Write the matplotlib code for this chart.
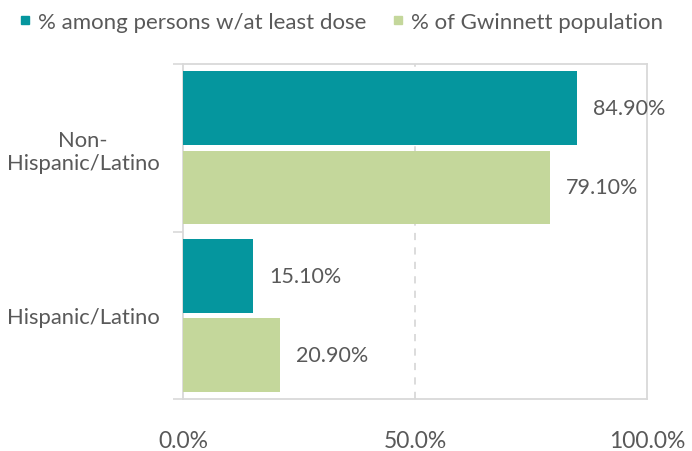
import matplotlib.pyplot as plt
from matplotlib.lines import Line2D
from matplotlib.ticker import FixedLocator

# data
categories = ['Hispanic/Latino', 'Non-\nHispanic/Latino']
among_dosed = [15.1, 84.9]
gwinnett_pop = [20.9, 79.1]
series_names = ['% among persons w/at least dose', '% of Gwinnett population']
xticks = [0, 50, 100]

teal = '#05969e'
green = '#c4d79b'
txt = '#595959'
edge = '#d9d9d9'

plt.rcParams['font.family'] = ['Lato', 'DejaVu Sans']

fig = plt.figure(figsize=(6.92, 4.52), dpi=100)
ax = fig.add_axes([0.2645, 0.115, 0.6705, 0.741])

pos = list(range(len(categories)))
h = 0.44
off = 0.236
ax.barh([p + off for p in pos], among_dosed, height=h, color=teal, zorder=3)
ax.barh([p - off for p in pos], gwinnett_pop, height=h, color=green, zorder=3)

for p, v in zip(pos, among_dosed):
    ax.text(v + 3.4, p + off, f'{v:.2f}%', va='center', ha='left', fontsize=15.5, color=txt)
for p, v in zip(pos, gwinnett_pop):
    ax.text(v + 3.4, p - off, f'{v:.2f}%', va='center', ha='left', fontsize=15.5, color=txt)

ax.set_xlim(0, 100)
ax.set_ylim(-0.5, 1.5)
ax.set_xticks(xticks)
ax.set_xticklabels([f'{t:.1f}%' for t in xticks], fontsize=16.5, color=txt)
ax.tick_params(axis='x', length=0, pad=22)

ax.yaxis.set_major_locator(FixedLocator([-0.5, 0.5, 1.5]))
ax.yaxis.set_major_formatter(plt.NullFormatter())
ax.yaxis.set_minor_locator(FixedLocator(pos))
ax.set_yticklabels(categories, minor=True, fontsize=15.8, color=txt, ha='center')
ax.tick_params(axis='y', which='major', length=7, color=edge, width=1.2)
ax.tick_params(axis='y', which='minor', length=0, pad=72)

ax.axvline(50, color=edge, linestyle=(0, (4, 4)), linewidth=1.3, zorder=1)
for s in ax.spines.values():
    s.set_color(edge)
    s.set_linewidth(1.3)

handles = [Line2D([], [], marker='s', linestyle='', color=c, markersize=6) for c in (teal, green)]
fig.legend(handles, series_names, loc='upper left', bbox_to_anchor=(-0.009, 1.015), ncol=2,
           frameon=False, fontsize=16, labelcolor=txt, handletextpad=0.1,
           columnspacing=0.9, handlelength=1.0)

fig.savefig('out.png')
